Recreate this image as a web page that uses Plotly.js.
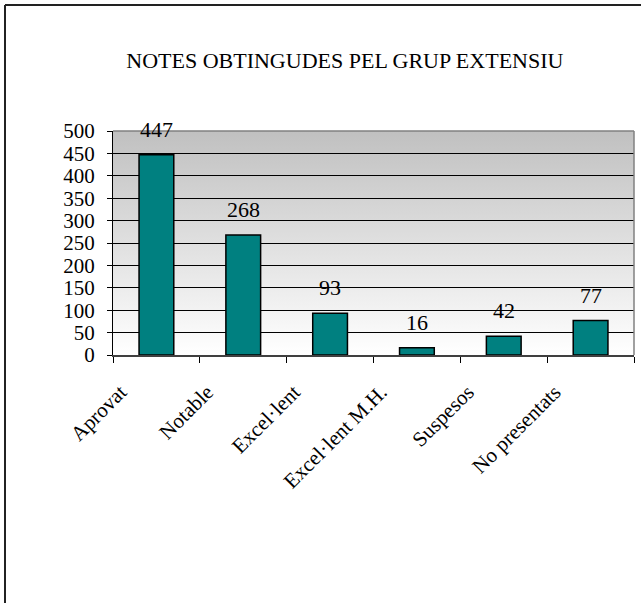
<!DOCTYPE html>
<html>
<head>
<meta charset="utf-8">
<script src="https://cdn.plot.ly/plotly-3.0.1.min.js"></script>
<style>
html,body{margin:0;padding:0;background:#fff;}
#chart{width:641px;height:603px;}
</style>
</head>
<body>
<div id="chart"></div>
<script>
const categories = ["Aprovat", "Notable", "Excel·lent", "Excel·lent M.H.", "Suspesos", "No presentats"];
const values = [447, 268, 93, 16, 42, 77];
const yTicks = [0, 50, 100, 150, 200, 250, 300, 350, 400, 450, 500];
const titleText = "NOTES OBTINGUDES PEL GRUP EXTENSIU";

const FONT = "Liberation Serif";

const grad = "data:image/svg+xml;charset=utf-8," + encodeURIComponent(
  "<svg xmlns='http://www.w3.org/2000/svg' width='10' height='100' viewBox='0 0 10 100' preserveAspectRatio='none'>" +
  "<defs><linearGradient id='g' x1='0' y1='0' x2='0' y2='1'>" +
  "<stop offset='0' stop-color='#c0c0c0'/><stop offset='1' stop-color='#ffffff'/></linearGradient></defs>" +
  "<rect x='0' y='0' width='10' height='100' fill='url(#g)'/></svg>");

const trace = {
  type: "bar",
  x: categories,
  y: values,
  width: 0.4,
  marker: {color: "#008080", line: {color: "#000000", width: 1.5}},
  hoverinfo: "x+y"
};

const annotations = categories.map((c, i) => ({
  x: c, y: values[i], xref: "x", yref: "y",
  text: String(values[i]), showarrow: false,
  yanchor: "bottom", yshift: 11,
  font: {family: FONT, size: 22, color: "#000"}
}));

const layout = {
  width: 641, height: 603,
  margin: {l: 113, r: 7, t: 131, b: 248},
  paper_bgcolor: "#ffffff",
  plot_bgcolor: "rgba(0,0,0,0)",
  font: {family: FONT, color: "#000"},
  showlegend: false,
  bargap: 0.6,
  title: {text: titleText, font: {family: FONT, size: 22, color: "#000"}, x: 0.538, xanchor: "center", y: 0.9, yanchor: "middle", xref: "container", yref: "container"},
  xaxis: {
    type: "category",
    range: [-0.5, 5.5],
    tickangle: -45,
    ticks: "outside", tickson: "boundaries", ticklen: 6, tickcolor: "#000", tickwidth: 1,
    ticklabelshift: -36, ticklabelstandoff: 15,
    showline: true, linecolor: "#404040", linewidth: 1.5,
    showgrid: false,
    tickfont: {family: FONT, size: 21, color: "#000"},
    fixedrange: true
  },
  yaxis: {
    range: [0, 500],
    tickvals: yTicks,
    ticktext: yTicks.map(String),
    ticks: "outside", ticklen: 5, tickcolor: "#000", tickwidth: 1,
    ticklabelstandoff: 8,
    showline: true, linecolor: "#000", linewidth: 1,
    showgrid: true, gridcolor: "#000", gridwidth: 1,
    zeroline: false,
    tickfont: {family: FONT, size: 21, color: "#000"},
    fixedrange: true
  },
  images: [{
    source: grad, xref: "x domain", yref: "y domain",
    x: 0, y: 1, sizex: 1, sizey: 1, xanchor: "left", yanchor: "top",
    sizing: "stretch", layer: "below"
  }],
  shapes: [
    {type: "line", xref: "x domain", yref: "y domain", x0: 0, x1: 1, y0: 1, y1: 1, line: {color: "#808080", width: 1.5}, layer: "above"},
    {type: "line", xref: "x domain", yref: "y domain", x0: 1, x1: 1, y0: 0, y1: 1, line: {color: "#808080", width: 1.5}, layer: "above"},
    {type: "line", xref: "paper", yref: "paper", x0: -0.2073, x1: -0.2073, y0: -1.2, y1: 1.5625, line: {color: "#222", width: 2}},
    {type: "line", xref: "paper", yref: "paper", x0: -0.2073, x1: 1.1, y0: 1.5625, y1: 1.5625, line: {color: "#222", width: 2}}
  ],
  annotations: annotations
};

Plotly.newPlot("chart", [trace], layout, {displayModeBar: false, staticPlot: true});
</script>
</body>
</html>
